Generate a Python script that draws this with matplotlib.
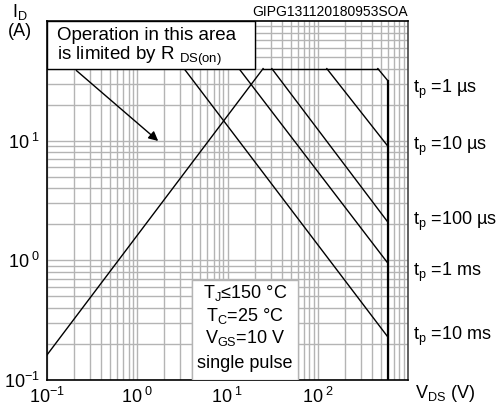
import numpy as np
import matplotlib
matplotlib.use("Agg")
import matplotlib.pyplot as plt
from matplotlib.patches import Rectangle

plt.rcParams['font.family'] = ['Liberation Sans', 'DejaVu Sans']
plt.rcParams['mathtext.fontset'] = 'custom'
plt.rcParams['mathtext.rm'] = 'Liberation Sans'
plt.rcParams['mathtext.it'] = 'Liberation Sans'
plt.rcParams['mathtext.sf'] = 'Liberation Sans'

# data
i_max = 40.0          # A, flat current limit
v_max = 600.0         # V, breakdown limit
rds_v = [0.1, 24.8]   # R_DS(on) limited line
rds_i = [0.162, 40.0]
pulse_labels = ['1 µs', '10 µs', '100 µs', '1 ms', '10 ms']
pulse_v_start = [463.0, 126.0, 31.0, 13.4, 3.3]   # V where the line leaves 40 A
pulse_i_end = [31.6, 8.96, 2.08, 0.944, 0.228]    # A at 600 V
label_i = [27.0, 9.0, 2.1, 0.8, 0.23]

x_ticks = [0.1, 1, 10, 100]
x_ticklabels = ['10$^{-1}$', '10$^{\\ 0}$', '10$^{\\ 1}$', '10$^{\\ 2}$']
y_ticks = [0.1, 1, 10]
y_ticklabels = ['10$^{-1}$', '10$^{\\ 0}$', '10$^{\\ 1}$']

fig = plt.figure(figsize=(5.01, 4.07), dpi=100)
ax = fig.add_axes([47/501, 27/407, 361/501, 359/407])
ax.set_xscale('log')
ax.set_yscale('log')
ax.set_xlim(0.1, 1000)
ax.set_ylim(0.1, 100)

ax.grid(True, which='both', color='#b4b4b4', lw=1.0)
ax.set_axisbelow(True)
ax.tick_params(which='both', length=0, labelsize=13, pad=5)
ax.set_xticks(x_ticks)
ax.set_xticklabels(x_ticklabels)
ax.set_yticks(y_ticks)
ax.set_yticklabels(y_ticklabels)
ax.yaxis.set_minor_formatter(plt.NullFormatter())
ax.xaxis.set_minor_formatter(plt.NullFormatter())
for s in ax.spines.values():
    s.set_linewidth(1.2)
ax.spines['right'].set_color('#444444')

# R_DS(on) line and flat current limit
ax.plot(rds_v, rds_i, color='black', lw=1)
ax.plot([rds_v[1], pulse_v_start[0]], [i_max, i_max], color='black', lw=1)

# pulse lines
for v0, i1 in zip(pulse_v_start, pulse_i_end):
    ax.plot([v0, v_max], [i_max, i1], color='black', lw=1)
ax.plot([v_max, v_max], [pulse_i_end[0], 0.1], color='black', lw=1.6)

for lab, yi in zip(pulse_labels, label_i):
    ax.text(1130, yi, '$\\mathregular{t_{p}}$ =' + lab, fontsize=13, va='center', ha='left',
            clip_on=False)

# box at top-left
ax.add_patch(Rectangle((0.1, i_max), 20 - 0.1, 100 - i_max, facecolor='white',
                       edgecolor='black', lw=1, zorder=3))
ax.text(0.13, 60, 'Operation in this area\nis limited by R $_{\\mathregular{DS(on)}}$',
        fontsize=13.5, va='center', ha='left', linespacing=1.0, zorder=4)
ax.annotate('', xy=(1.8, 9.6), xytext=(0.2, 40),
            arrowprops=dict(arrowstyle='-|>', color='black', lw=1, mutation_scale=14),
            zorder=4)

# conditions box
ax.add_patch(Rectangle((4, 0.1), 60 - 4, 0.68 - 0.1, facecolor='white',
                       edgecolor='#b4b4b4', lw=1, zorder=3))
cond = ['T$_{\\mathregular{J}}$≤150 °C', 'T$_{\\mathregular{C}}$=25 °C',
        'V$_{\\mathregular{GS}}$=10 V', 'single pulse']
cond_y = [0.53, 0.345, 0.225, 0.137]
for t, yy in zip(cond, cond_y):
    ax.text(15.5, yy, t, fontsize=13, ha='center', va='center', zorder=4)

fig.text(408/501, 1 - 12/407, 'GIPG131120180953SOA', fontsize=10, ha='right', va='center')
fig.text(20/501, 1 - 12/407, 'I$_{\\mathregular{D}}$', fontsize=13, ha='center', va='center')
fig.text(20/501, 1 - 31/407, '(A)', fontsize=13, ha='center', va='center')
fig.text(445/501, 1 - 393/407, 'V$_{\\mathregular{DS}}$ (V)', fontsize=13, ha='center', va='center')

fig.savefig('out.png', dpi=100)
